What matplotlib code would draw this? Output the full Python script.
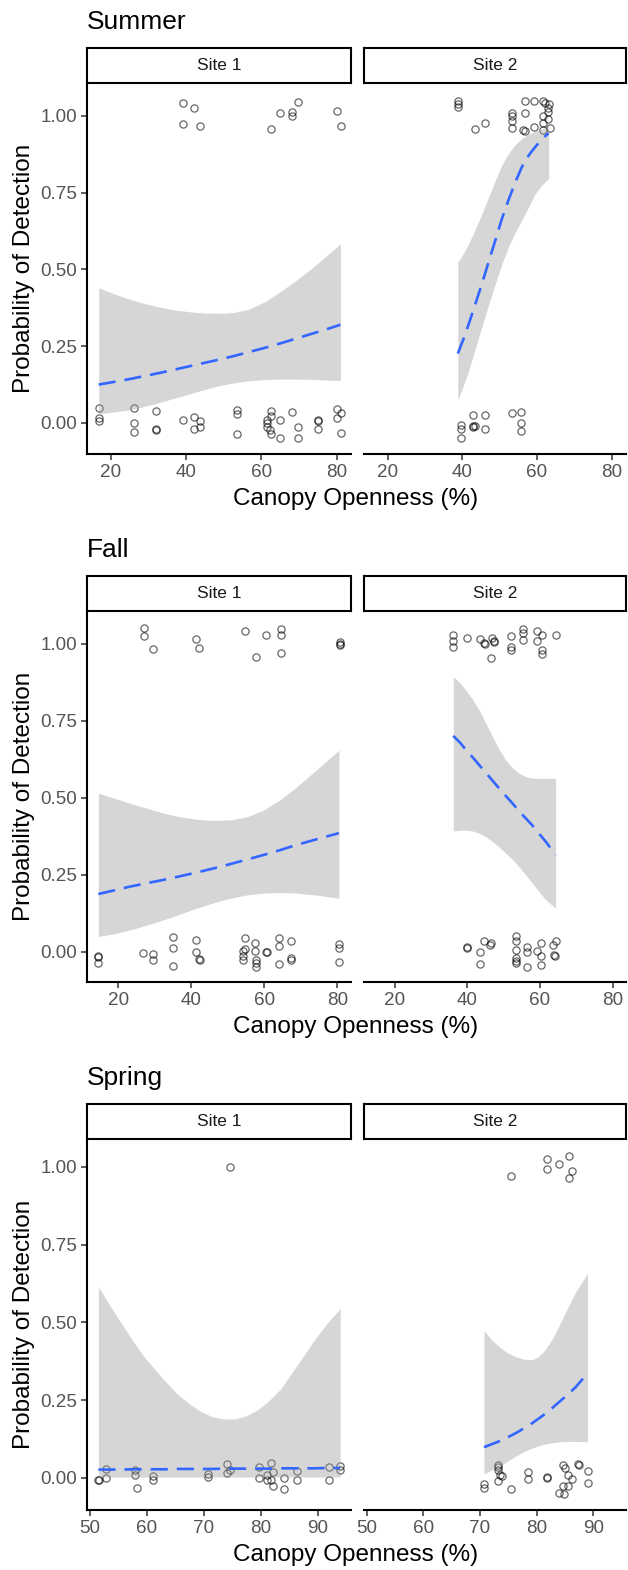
import matplotlib
matplotlib.use("Agg")
import matplotlib.pyplot as plt

plt.rcParams['font.family'] = ['Liberation Sans', 'DejaVu Sans']

seasons = ["Summer", "Fall", "Spring"]
sites = ["Site 1", "Site 2"]

# ---- Summer ----
sum1_x = [39.1, 42.1, 39.1, 43.6, 65.0, 62.5, 68.1, 68.1, 69.7, 80.1, 81.1,
          16.8, 16.8, 16.8, 26.2, 26.2, 26.2, 32.0, 32.0, 32.0, 39.1, 42.1, 43.6,
          43.6, 42.1, 53.4, 53.4, 53.4, 62.5, 62.5, 61.4, 61.4, 61.4, 62.2, 62.5,
          65.0, 65.0, 68.1, 69.7, 69.7, 75.1, 75.1, 75.1, 80.1, 81.1, 80.1, 81.1]
sum1_y = [1.043, 1.025, 0.973, 0.967, 1.010, 0.957, 1.012, 0.998, 1.046, 1.016, 0.966,
          0.049, 0.016, 0.005, 0.049, 0.000, -0.030, 0.040, -0.020, -0.024, 0.010, 0.021, 0.008,
          -0.012, -0.021, 0.043, 0.029, -0.037, 0.038, 0.024, 0.011, 0.000, -0.013, -0.022, -0.036,
          0.010, -0.049, 0.036, -0.013, -0.050, 0.011, 0.008, -0.020, 0.047, 0.033, 0.015, -0.034]
sum1_cx = [16.8, 21, 25, 29, 33, 37, 41, 45, 49, 53, 57, 61, 65, 69, 73, 77, 81]
sum1_fit = [0.125, 0.134, 0.143, 0.153, 0.163, 0.174, 0.185, 0.196, 0.207, 0.219, 0.232,
            0.245, 0.259, 0.274, 0.289, 0.304, 0.320]
sum1_lo = [0.030, 0.036, 0.043, 0.054, 0.067, 0.081, 0.095, 0.109, 0.122, 0.131, 0.138,
           0.141, 0.143, 0.143, 0.142, 0.140, 0.138]
sum1_hi = [0.440, 0.420, 0.403, 0.389, 0.377, 0.368, 0.362, 0.358, 0.357, 0.360, 0.372,
           0.395, 0.428, 0.462, 0.500, 0.541, 0.584]

sum2_x = [38.8, 38.8, 38.8, 43.4, 46.2, 53.3, 53.3, 53.3, 53.3, 56.7, 56.7, 56.2,
          56.7, 59.1, 59.1, 61.6, 62.0, 63.1, 62.9, 62.9, 61.6, 62.9, 61.6, 61.6, 63.5,
          42.8, 46.2, 53.3, 55.8, 39.7, 39.7, 39.7, 42.8, 43.4, 42.8, 46.2, 55.8, 55.8]
sum2_y = [1.047, 1.039, 1.028, 0.957, 0.976, 1.009, 0.998, 0.982, 0.962, 1.050, 1.009, 0.955,
          0.951, 1.049, 0.965, 1.049, 1.043, 1.039, 1.025, 1.011, 0.998, 0.989, 0.978, 0.955, 0.960,
          0.027, 0.027, 0.033, 0.035, -0.005, -0.020, -0.050, -0.011, -0.011, -0.014, -0.020, 0.000, -0.027]
sum2_cx = [38.8, 40.3, 41.8, 43.5, 45.3, 47.1, 48.9, 50.6, 52.4, 54.2, 56.0, 57.8, 59.6, 61.3, 63.1]
sum2_fit = [0.226, 0.273, 0.325, 0.388, 0.455, 0.527, 0.597, 0.665, 0.727, 0.785, 0.835,
            0.872, 0.900, 0.924, 0.944]
sum2_lo = [0.076, 0.122, 0.174, 0.243, 0.315, 0.387, 0.455, 0.518, 0.575, 0.622, 0.662,
           0.705, 0.748, 0.775, 0.796]
sum2_hi = [0.523, 0.552, 0.586, 0.632, 0.683, 0.738, 0.792, 0.840, 0.879, 0.907, 0.927,
           0.940, 0.950, 0.958, 0.965]

# ---- Fall ----
fall1_x = [27.0, 27.0, 29.6, 41.3, 42.2, 54.6, 57.7, 60.5, 64.5, 64.5, 64.5, 80.7, 80.7, 80.7,
           14.6, 14.6, 14.6, 26.9, 29.6, 29.6, 34.9, 34.9, 34.9, 41.3, 41.3, 42.2, 42.4,
           54.6, 54.6, 54.3, 54.3, 54.3, 57.4, 57.4, 57.7, 57.7, 57.7, 60.7, 60.5,
           63.9, 63.9, 63.9, 67.4, 67.4, 67.4, 80.4, 80.4, 80.4]
fall1_y = [1.051, 1.026, 0.983, 1.015, 0.986, 1.043, 0.957, 1.030, 1.049, 1.028, 0.970, 1.005, 0.999, 0.996,
           -0.014, -0.018, -0.036, -0.005, -0.008, -0.029, 0.047, 0.011, -0.046, 0.037, -0.003, -0.024, -0.027,
           0.043, 0.008, 0.003, -0.016, -0.027, 0.027, 0.003, -0.027, -0.038, -0.049, 0.000, -0.002,
           0.043, 0.018, -0.040, 0.035, -0.022, -0.026, 0.025, 0.011, -0.034]
fall1_cx = [14.6, 19.0, 23.2, 27.8, 32.4, 37.0, 41.5, 46.0, 50.6, 55.2, 59.8, 64.4, 68.9, 74.6, 80.4]
fall1_fit = [0.187, 0.199, 0.211, 0.222, 0.233, 0.245, 0.257, 0.270, 0.284, 0.299, 0.314,
             0.330, 0.347, 0.366, 0.385]
fall1_lo = [0.049, 0.058, 0.070, 0.086, 0.103, 0.122, 0.141, 0.158, 0.173, 0.184, 0.190,
            0.192, 0.190, 0.183, 0.173]
fall1_hi = [0.515, 0.498, 0.482, 0.466, 0.450, 0.438, 0.430, 0.426, 0.428, 0.438, 0.460,
            0.494, 0.536, 0.594, 0.655]

fall2_x = [36.1, 36.1, 36.1, 40.0, 43.6, 44.6, 44.8, 46.9, 47.3, 47.3, 46.6, 51.9, 51.9, 51.9,
           55.4, 55.4, 55.4, 59.3, 60.5, 59.3, 60.5, 60.5, 64.3,
           40.0, 40.0, 44.6, 46.6, 46.2, 43.6, 43.6, 53.3, 53.3, 53.3, 53.3, 53.3, 53.3,
           56.3, 56.3, 56.3, 59.3, 60.2, 60.2, 60.2, 63.7, 64.3, 63.8, 64.1]
fall2_y = [1.029, 1.008, 0.991, 1.018, 1.015, 1.004, 1.000, 1.018, 1.011, 1.005, 0.953, 1.026, 0.991, 0.980,
           1.047, 1.036, 1.012, 1.043, 1.029, 1.008, 0.980, 0.966, 1.029,
           0.016, 0.013, 0.033, 0.029, 0.020, 0.000, -0.040, 0.049, 0.033, 0.005, -0.022, -0.030, -0.038,
           0.016, 0.000, -0.049, 0.003, 0.029, -0.016, -0.043, 0.022, 0.034, -0.011, -0.016]
fall2_cx = [36.1, 37.9, 39.5, 41.4, 43.2, 45.0, 46.9, 48.7, 50.5, 52.4, 54.2, 56.0, 57.9,
            59.7, 61.6, 63.0, 64.3]
fall2_fit = [0.701, 0.680, 0.657, 0.632, 0.607, 0.582, 0.556, 0.531, 0.507, 0.482, 0.457,
             0.434, 0.410, 0.384, 0.357, 0.335, 0.314]
fall2_lo = [0.392, 0.394, 0.395, 0.392, 0.385, 0.373, 0.358, 0.340, 0.320, 0.299, 0.276,
            0.250, 0.222, 0.195, 0.168, 0.154, 0.141]
fall2_hi = [0.894, 0.874, 0.850, 0.820, 0.785, 0.744, 0.699, 0.658, 0.623, 0.597, 0.580,
            0.569, 0.564, 0.563, 0.563, 0.563, 0.563]

# ---- Spring ----
spr1_x = [74.6,
          51.5, 51.6, 52.8, 52.8, 58.0, 58.0, 58.3, 61.0, 61.0, 70.8, 70.8, 74.1, 74.1, 74.6,
          79.7, 79.7, 81.0, 81.0, 81.7, 82.1, 81.7, 82.1, 84.0, 84.0, 86.3, 86.3, 91.9, 91.9, 93.9, 93.9]
spr1_y = [1.000,
          -0.007, -0.005, 0.030, 0.000, 0.027, 0.011, -0.032, 0.005, -0.005, 0.014, 0.002, 0.046, 0.016, 0.027,
          0.034, 0.000, 0.011, -0.005, 0.048, 0.018, -0.005, -0.025, 0.000, -0.037, 0.021, -0.007, 0.036, -0.005, 0.040, 0.027]
spr1_cx = [51.5, 53.5, 55.5, 57.5, 59.5, 61.5, 63.5, 65.5, 67.5, 69.5, 71.5, 73.5, 75.5,
           77.5, 79.5, 81.5, 83.5, 85.5, 87.5, 89.5, 91.5, 93.9]
spr1_fit = [0.027, 0.027, 0.027, 0.028, 0.028, 0.028, 0.028, 0.029, 0.029, 0.029, 0.029,
            0.030, 0.030, 0.030, 0.030, 0.030, 0.031, 0.031, 0.031, 0.031, 0.032, 0.032]
spr1_lo = [0.003, 0.003, 0.003, 0.003, 0.003, 0.003, 0.003, 0.003, 0.003, 0.003, 0.003,
           0.003, 0.003, 0.003, 0.003, 0.003, 0.003, 0.003, 0.003, 0.003, 0.003, 0.003]
spr1_hi = [0.615, 0.555, 0.498, 0.442, 0.390, 0.347, 0.305, 0.267, 0.238, 0.213, 0.197,
           0.190, 0.190, 0.200, 0.220, 0.250, 0.287, 0.340, 0.393, 0.447, 0.495, 0.545]

spr2_x = [81.8, 81.8, 83.9, 85.8, 86.3, 85.8, 75.5,
          70.7, 70.7, 73.2, 73.2, 73.2, 73.6, 73.8, 73.1, 75.5, 78.4, 78.4, 81.8, 81.9,
          84.7, 85.0, 85.6, 86.3, 87.4, 87.5, 89.0, 89.0, 85.6, 84.7, 83.9, 84.9]
spr2_y = [1.027, 0.995, 1.011, 1.034, 0.987, 0.965, 0.972,
          -0.021, -0.032, 0.043, 0.035, 0.027, 0.011, 0.005, -0.011, -0.034, 0.018, -0.002, 0.002, 0.000,
          0.043, 0.032, 0.011, -0.003, 0.045, 0.043, 0.021, -0.016, -0.025, -0.027, -0.048, -0.050]
spr2_cx = [70.7, 72.0, 73.4, 74.8, 76.3, 77.7, 79.2, 80.3, 81.5, 82.7, 83.9, 85.3, 86.8, 87.9, 89.0]
spr2_fit = [0.099, 0.108, 0.118, 0.130, 0.144, 0.159, 0.176, 0.190, 0.206, 0.224, 0.243,
            0.265, 0.290, 0.313, 0.337]
spr2_lo = [0.013, 0.025, 0.037, 0.053, 0.070, 0.084, 0.096, 0.103, 0.109, 0.113, 0.116,
           0.117, 0.118, 0.117, 0.116]
spr2_hi = [0.474, 0.445, 0.422, 0.403, 0.390, 0.382, 0.380, 0.390, 0.412, 0.445, 0.487,
           0.540, 0.594, 0.627, 0.658]

x_ticks = [[20, 40, 60, 80], [20, 40, 60, 80], [50, 60, 70, 80, 90]]
x_limits = [(13.7, 83.8), (11.5, 83.7), (49.5, 95.8)]
y_limits = [(-0.101, 1.107), (-0.099, 1.107), (-0.103, 1.09)]
y_ticks = [0, 0.25, 0.5, 0.75, 1.0]

panels = [
    [(sum1_x, sum1_y, sum1_cx, sum1_fit, sum1_lo, sum1_hi),
     (sum2_x, sum2_y, sum2_cx, sum2_fit, sum2_lo, sum2_hi)],
    [(fall1_x, fall1_y, fall1_cx, fall1_fit, fall1_lo, fall1_hi),
     (fall2_x, fall2_y, fall2_cx, fall2_fit, fall2_lo, fall2_hi)],
    [(spr1_x, spr1_y, spr1_cx, spr1_fit, spr1_lo, spr1_hi),
     (spr2_x, spr2_y, spr2_cx, spr2_fit, spr2_lo, spr2_hi)],
]

W, H = 628, 1570
fig = plt.figure(figsize=(W / 100, H / 100), dpi=100)


def px_axes(x0, y0, x1, y1):
    # axes placed by pixel box, y measured from the top
    return fig.add_axes([x0 / W, 1 - y1 / H, (x1 - x0) / W, (y1 - y0) / H])


panel_left = [87, 364]
panel_right = [351, 626]
step = 528

for i, season in enumerate(seasons):
    off = i * step
    fig.text(87 / W, 1 - (29 + off) / H, season, fontsize=19, va='baseline', ha='left')

    for j in range(2):
        px, py, cx, fit, lo, hi = panels[i][j]
        ax = px_axes(panel_left[j], 83 + off, panel_right[j], 454 + off)
        ax.plot(px, py, 'o', mfc='none', mec='black', alpha=0.6, ms=5.2, mew=0.9,
                linestyle='none', zorder=2)
        ax.fill_between(cx, lo, hi, color='#999999', alpha=0.4, lw=0, zorder=3)
        ax.plot(cx, fit, color='#3366FF', lw=1.9, dashes=(6.5, 3.4), zorder=4)

        ax.set_xlim(*x_limits[i])
        ax.set_ylim(*y_limits[i])
        ax.set_xticks(x_ticks[i])
        ax.set_yticks(y_ticks)
        ax.set_yticklabels(["0.00", "0.25", "0.50", "0.75", "1.00"])
        for s in ['top', 'right']:
            ax.spines[s].set_visible(False)
        ax.spines['bottom'].set_linewidth(1.5)
        ax.spines['left'].set_linewidth(1.5)
        ax.tick_params(length=4.5, width=1.1, color='#333333', labelsize=13.6,
                       labelcolor='#555555', pad=2.5)
        if j == 1:
            ax.spines['left'].set_visible(False)
            ax.tick_params(axis='y', left=False, labelleft=False)

        strip = px_axes(panel_left[j], 48 + off, panel_right[j], 83 + off)
        strip.set_xticks([])
        strip.set_yticks([])
        for s in strip.spines.values():
            s.set_linewidth(1.5)
            s.set_color('black')
        strip.text(0.5, 0.5, sites[j], transform=strip.transAxes, ha='center',
                   va='center', fontsize=12.5, color='#1a1a1a')

    fig.text(24 / W, 1 - (268 + off) / H, "Probability of Detection", rotation=90,
             ha='center', va='center', fontsize=17.5)
    fig.text(356 / W, 1 - (499 + off) / H, "Canopy Openness (%)",
             ha='center', va='center', fontsize=17.5)

fig.savefig("out.png", dpi=100, facecolor='white')
